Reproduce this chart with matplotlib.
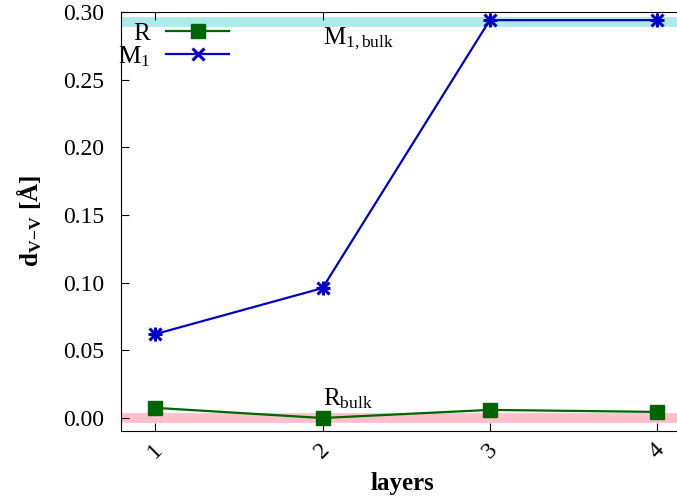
import matplotlib
matplotlib.use("Agg")
import matplotlib.pyplot as plt

plt.rcParams['font.family'] = ['Liberation Serif', 'DejaVu Serif']
plt.rcParams['mathtext.fontset'] = 'custom'
plt.rcParams['mathtext.rm'] = 'Liberation Serif'
plt.rcParams['mathtext.it'] = 'Liberation Serif:italic'
plt.rcParams['mathtext.bf'] = 'Liberation Serif:bold'

layers = [1, 2, 3, 4]
R_vals = [0.0075, 0.0, 0.006, 0.0045]
M1_vals = [0.062, 0.096, 0.294, 0.294]
R_bulk = 0.0
M1_bulk = 0.2925
yticks = [0.00, 0.05, 0.10, 0.15, 0.20, 0.25, 0.30]

fig = plt.figure(figsize=(6.77, 4.99), dpi=100)
ax = fig.add_axes([121/677, (499-431)/499, 1.01 - 121/677, (431-12)/499])

ax.axhline(M1_bulk, color='#aeeaea', lw=7, zorder=1)
ax.axhline(R_bulk, color='#ffc0cb', lw=7, zorder=1)

ax.plot(layers, R_vals, color='#006400', lw=1.6, marker='s', ms=9.5, label='R', zorder=3)
ax.plot(layers, M1_vals, color='#0000cc', lw=1.6, marker='x', ms=9, mew=2.2, label='M$_1$', zorder=3)
ax.plot(layers, M1_vals, color='#0000cc', lw=0, marker='+', ms=10, mew=2.2, zorder=3)

ax.text(2.0, 0.2765, r'M$_{\mathrm{1,bulk}}$', fontsize=18)
ax.text(2.0, 0.0095, r'R$_{\mathrm{bulk}}$', fontsize=18)

ax.set_xlim(0.795, 4.16)
ax.set_ylim(-0.0096, 0.30)
ax.set_xticks(layers)
ax.set_xticklabels([str(v) for v in layers], rotation=45, fontsize=17)
ax.set_yticks(yticks)
ax.set_yticklabels([f'{v:.2f}' for v in yticks], fontsize=17)
ax.tick_params(direction='in', top=True, length=6, width=0.8, pad=12)
ax.tick_params(axis='x', pad=6)
ax.spines['right'].set_visible(False)
ax.set_xlabel('layers', fontsize=18, fontweight='bold', labelpad=7)
ax.set_ylabel(r'$\mathbf{d_{V\!-\!V}}$ [Å]', fontsize=18, fontweight='bold', labelpad=14)

leg = ax.legend(loc='upper left', frameon=False, markerfirst=False, fontsize=18,
                bbox_to_anchor=(-0.023, 1.0), handlelength=2.5, labelspacing=-0.02,
                borderaxespad=0, handletextpad=0.65)

fig.savefig('out.png', dpi=100)
